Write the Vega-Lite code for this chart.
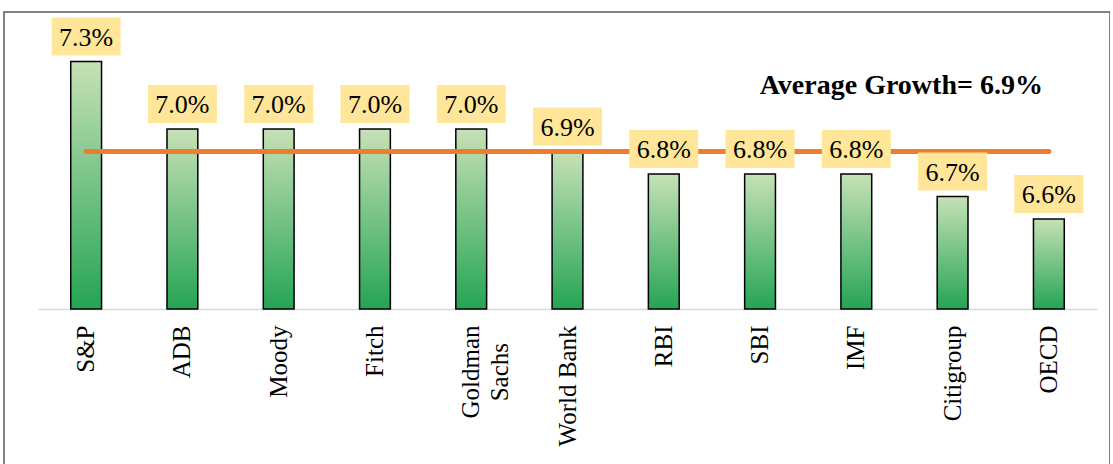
{
  "$schema": "https://vega.github.io/schema/vega-lite/v6.json",
  "width": 1106,
  "height": 470,
  "autosize": {"type": "none"},
  "padding": {"left": 4, "top": 12, "right": 0, "bottom": 0},
  "background": "white",
  "config": {"view": {"stroke": "#595959", "strokeWidth": 1.5}},
  "datasets": {
    "agencies": [
      {"agency": "S&P", "value": 7.3, "label": "7.3%"},
      {"agency": "ADB", "value": 7.0, "label": "7.0%"},
      {"agency": "Moody", "value": 7.0, "label": "7.0%"},
      {"agency": "Fitch", "value": 7.0, "label": "7.0%"},
      {"agency": "Goldman Sachs", "value": 7.0, "label": "7.0%"},
      {"agency": "World Bank", "value": 6.9, "label": "6.9%"},
      {"agency": "RBI", "value": 6.8, "label": "6.8%"},
      {"agency": "SBI", "value": 6.8, "label": "6.8%"},
      {"agency": "IMF", "value": 6.8, "label": "6.8%"},
      {"agency": "Citigroup", "value": 6.7, "label": "6.7%"},
      {"agency": "OECD", "value": 6.6, "label": "6.6%"}
    ],
    "avg": [{"agency": "S&P", "agencyEnd": "OECD", "value": 6.9}],
    "note": [{"agency": "IMF", "value": 7.19, "text": "Average Growth= 6.9%"}]
  },
  "layer": [
    {
      "data": {"name": "agencies"},
      "mark": {
        "type": "bar",
        "stroke": "black",
        "strokeWidth": 1.5,
        "color": {
          "gradient": "linear",
          "x1": 0, "y1": 0, "x2": 0, "y2": 1,
          "stops": [
            {"offset": 0, "color": "#c6e1b6"},
            {"offset": 1, "color": "#25a455"}
          ]
        }
      },
      "encoding": {
        "x": {
          "field": "agency",
          "type": "nominal",
          "scale": {
            "domain": ["S&P", "ADB", "Moody", "Fitch", "Goldman Sachs", "World Bank", "RBI", "SBI", "IMF", "Citigroup", "OECD"],
            "range": [34, 1093],
            "paddingInner": 0.68,
            "paddingOuter": 0.34
          },
          "axis": {
            "title": null,
            "labelAngle": -90,
            "labelFont": "Liberation Serif",
            "labelFontSize": 25,
            "labelColor": "black",
            "labelPadding": 16,
            "labelLimit": 400,
            "labelLineHeight": 29,
            "ticks": false,
            "domainColor": "#d9d9d9",
            "domainWidth": 1.5,
            "offset": -173,
            "labelExpr": "datum.label == 'Goldman Sachs' ? ['Goldman', 'Sachs\u2002\u2009\u200b'] : datum.label"
          }
        },
        "y": {
          "field": "value",
          "type": "quantitative",
          "scale": {"domain": [6.2, 7.52], "range": [297, 0], "zero": false, "nice": false},
          "axis": null
        },
        "y2": {"datum": 6.2}
      }
    },
    {
      "data": {"name": "avg"},
      "mark": {"type": "rule", "color": "#ed7d31", "strokeWidth": 5, "strokeCap": "round"},
      "encoding": {
        "x": {"field": "agency", "type": "nominal"},
        "x2": {"field": "agencyEnd"},
        "y": {"field": "value", "type": "quantitative"}
      }
    },
    {
      "data": {"name": "agencies"},
      "mark": {
        "type": "point",
        "shape": "M-1,-0.55L1,-0.55L1,0.55L-1,0.55Z",
        "filled": true,
        "fill": "#ffe699",
        "opacity": 1,
        "size": 4761,
        "strokeWidth": 0,
        "yOffset": -25
      },
      "encoding": {
        "x": {"field": "agency", "type": "nominal"},
        "y": {"field": "value", "type": "quantitative"}
      }
    },
    {
      "data": {"name": "agencies"},
      "mark": {
        "type": "text",
        "font": "Liberation Serif",
        "fontSize": 26,
        "color": "black",
        "baseline": "middle",
        "align": "center",
        "yOffset": -24
      },
      "encoding": {
        "x": {"field": "agency", "type": "nominal"},
        "y": {"field": "value", "type": "quantitative"},
        "text": {"field": "label"}
      }
    },
    {
      "data": {"name": "note"},
      "mark": {
        "type": "text",
        "font": "Liberation Serif",
        "fontWeight": "bold",
        "fontSize": 28,
        "color": "black",
        "baseline": "middle",
        "align": "center",
        "xOffset": 45
      },
      "encoding": {
        "x": {"field": "agency", "type": "nominal"},
        "y": {"field": "value", "type": "quantitative"},
        "text": {"field": "text"}
      }
    }
  ]
}
